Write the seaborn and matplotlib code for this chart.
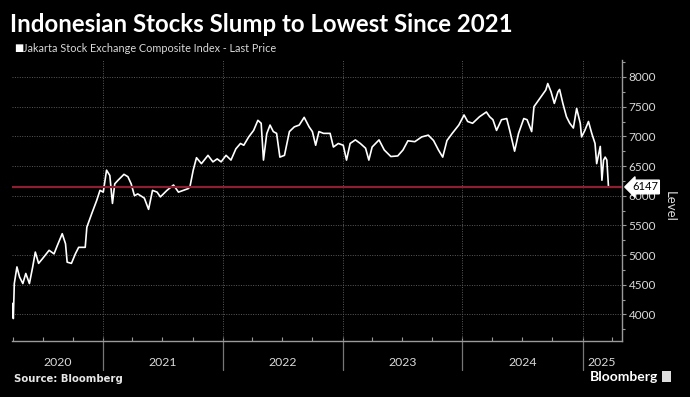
import matplotlib
matplotlib.use("Agg")
import matplotlib.pyplot as plt
import matplotlib.dates as mdates
import matplotlib.transforms as mtransforms
from matplotlib.ticker import MultipleLocator
import pandas as pd
import seaborn as sns

# --- data (JCI last price) ---
dates = [
    # 2020
    "2020-03-31", "2020-04-03", "2020-04-06", "2020-04-14", "2020-04-22", "2020-05-02",
    "2020-05-11", "2020-05-22", "2020-06-01", "2020-06-09", "2020-06-19", "2020-07-01",
    "2020-07-21", "2020-08-05", "2020-08-15", "2020-08-30", "2020-09-09", "2020-09-14",
    "2020-09-27", "2020-10-09", "2020-10-19", "2020-11-08", "2020-11-13", "2020-11-28",
    "2020-12-13", "2020-12-23",
    # 2021
    "2021-01-02", "2021-01-12", "2021-01-22", "2021-01-30", "2021-02-06", "2021-02-16",
    "2021-03-06", "2021-03-18", "2021-03-28", "2021-04-07", "2021-04-17", "2021-05-07",
    "2021-05-20", "2021-06-01", "2021-06-15", "2021-06-25", "2021-07-15", "2021-08-04",
    "2021-08-19", "2021-09-03", "2021-09-18", "2021-09-23", "2021-10-03", "2021-10-13",
    "2021-10-28", "2021-11-17", "2021-12-02", "2021-12-15", "2021-12-27",
    # 2022
    "2022-01-11", "2022-01-26", "2022-02-10", "2022-02-24", "2022-03-06", "2022-03-21",
    "2022-04-05", "2022-04-18", "2022-04-28", "2022-05-05", "2022-05-15", "2022-05-25",
    "2022-06-04", "2022-06-14", "2022-06-24", "2022-07-08", "2022-07-23", "2022-08-07",
    "2022-08-22", "2022-09-06", "2022-09-21", "2022-10-01", "2022-10-11", "2022-10-21",
    "2022-11-04", "2022-11-24", "2022-12-04", "2022-12-19",
    # 2023
    "2023-01-03", "2023-01-13", "2023-01-24", "2023-02-09", "2023-02-24", "2023-03-12",
    "2023-03-22", "2023-04-01", "2023-04-22", "2023-05-08", "2023-05-28", "2023-06-18",
    "2023-07-04", "2023-07-19", "2023-08-09", "2023-08-30", "2023-09-19", "2023-10-05",
    "2023-10-20", "2023-11-02", "2023-11-15", "2023-12-01", "2023-12-21",
    # 2024
    "2024-01-06", "2024-01-17", "2024-02-01", "2024-02-22", "2024-03-14", "2024-03-24",
    "2024-04-03", "2024-04-14", "2024-04-29", "2024-05-15", "2024-05-25", "2024-06-08",
    "2024-06-20", "2024-07-06", "2024-07-16", "2024-07-30", "2024-08-06", "2024-08-27",
    "2024-09-11", "2024-09-17", "2024-09-27", "2024-10-07", "2024-10-18", "2024-10-23",
    "2024-11-02", "2024-11-13", "2024-11-23", "2024-12-04", "2024-12-14", "2024-12-25",
    "2024-12-29",
    # 2025
    "2025-01-08", "2025-01-19", "2025-01-29", "2025-02-08", "2025-02-13", "2025-02-24",
    "2025-03-01", "2025-03-06", "2025-03-11", "2025-03-16", "2025-03-21",
]
levels = [
    # 2020
    4185, 3930, 4520, 4800, 4630, 4520,
    4690, 4520, 4800, 5050, 4860, 4940,
    5080, 5020, 5160, 5360, 5190, 4880,
    4860, 5020, 5130, 5130, 5470, 5700,
    5920, 6090,
    # 2021
    6060, 6430, 6340, 5870, 6200, 6260,
    6360, 6320, 6200, 6000, 6030, 5960,
    5770, 6090, 6060, 5980, 6090, 6180,
    6060, 6090, 6120, 6150, 6430, 6640,
    6540, 6680, 6570, 6620, 6570,
    # 2022
    6680, 6600, 6790, 6880, 6850, 6990,
    7100, 7270, 7220, 6600, 7045, 7190,
    7080, 7050, 6650, 6680, 7080, 7160,
    7190, 7320, 7160, 7080, 6850, 7080,
    7050, 7050, 6820, 6880,
    # 2023
    6850, 6600, 6880, 6940, 6880, 6800,
    6600, 6820, 6940, 6770, 6660, 6670,
    6770, 6925, 6910, 6990, 7020, 6930,
    6770, 6650, 6930, 7050, 7190,
    # 2024
    7360, 7250, 7220, 7330, 7410, 7330,
    7280, 7100, 7280, 7300, 7080, 6750,
    7050, 7300, 7280, 7080, 7500, 7665,
    7780, 7890, 7750, 7555, 7750, 7790,
    7555, 7330, 7220, 7140, 7470, 7220,
    6990,
    # 2025
    7100, 7250, 7050, 6880, 6540, 6830,
    6260, 6600, 6650, 6600, 6147,
]
last_price = 6147
year_starts = ["2021-01-01", "2022-01-01", "2023-01-01", "2024-01-01", "2025-01-01"]
year_labels = ["2020", "2021", "2022", "2023", "2024", "2025"]
x_range = ["2020-03-30", "2025-04-30"]
y_range = [3545, 8287]

title = "Indonesian Stocks Slump to Lowest Since 2021"
legend_label = "Jakarta Stock Exchange Composite Index - Last Price"

# --- style ---
sns.set_theme(style="dark")
plt.rcParams["font.family"] = ["Lato", "DejaVu Sans"]
txt_col = "#d9d9d9"
axis_col = "#9a9a9a"
grid_col = "#5a5a5a"

df = pd.DataFrame({"date": pd.to_datetime(dates), "level": levels})

fig = plt.figure(figsize=(6.9, 3.97), dpi=100, facecolor="black")
ax = fig.add_axes([0.0174, 0.140, 0.8835, 0.709])
ax.set_facecolor("black")

sns.lineplot(data=df, x="date", y="level", ax=ax, color="white", linewidth=1.2)

# last price marker line
ax.axhline(last_price, color="#8e1f33", linewidth=1.6, zorder=3)

ax.set_xlim(pd.to_datetime(x_range[0]), pd.to_datetime(x_range[1]))
ax.set_ylim(*y_range)

# y axis on right
ax.yaxis.tick_right()
ax.yaxis.set_label_position("right")
ax.yaxis.set_major_locator(MultipleLocator(500))
ax.yaxis.set_minor_locator(MultipleLocator(250))
ax.set_yticks([4000 + 500 * i for i in range(9)])
ax.tick_params(axis="y", which="both", right=True, left=False, direction="out",
               colors=axis_col, labelcolor=txt_col, labelsize=8.5, length=3, width=0.8, pad=2)
ax.tick_params(axis="y", which="minor", length=2)
ax.set_ylabel("Level", color=txt_col, fontsize=9.5, rotation=270, labelpad=12)
ax.yaxis.set_label_coords(1.088, 0.48)

# x axis: quarter ticks, no labels
ax.xaxis.set_major_locator(mdates.MonthLocator(bymonth=[1, 4, 7, 10]))
ax.xaxis.set_major_formatter(plt.NullFormatter())
ax.tick_params(axis="x", which="major", bottom=True, direction="in", length=3,
               width=0.8, colors=axis_col)
ax.set_xlabel("")

for s in ["left", "top"]:
    ax.spines[s].set_visible(False)
for s in ["right", "bottom"]:
    ax.spines[s].set_visible(True)
    ax.spines[s].set_color(axis_col)
    ax.spines[s].set_linewidth(1.0)

# grid: horizontal dotted at labelled levels, vertical dotted at year starts
ax.grid(False)
for v in ax.get_yticks():
    ax.axhline(v, color=grid_col, linestyle=(0, (1, 1.5)), linewidth=0.7, zorder=1)
trans = mtransforms.blended_transform_factory(ax.transData, ax.transAxes)
for ys in pd.to_datetime(year_starts):
    ax.axvline(ys, color=grid_col, linestyle=(0, (1, 1.5)), linewidth=0.7, zorder=1)
    ax.plot([ys, ys], [0, -0.10], transform=trans, color="#777777", linewidth=0.9,
            clip_on=False)

# year labels centred in each span
edges = [mdates.date2num(pd.to_datetime(x_range[0]))] + \
        [mdates.date2num(d) for d in pd.to_datetime(year_starts)] + \
        [mdates.date2num(pd.to_datetime(x_range[1]))]
for lab, a, b in zip(year_labels, edges[:-1], edges[1:]):
    ax.text((a + b) / 2, -0.075, lab, transform=trans, ha="center", va="center",
            color=txt_col, fontsize=8.8)

# last value tag
ax.annotate(f"{last_price}", xy=(1.0, last_price), xycoords=("axes fraction", "data"),
            xytext=(1.017, last_price), textcoords=("axes fraction", "data"),
            ha="left", va="center", fontsize=8, color="black",
            bbox=dict(boxstyle="larrow,pad=0.12", fc="white", ec="white"),
            annotation_clip=False)

# titles and footer
fig.text(0.014, 0.968, title, ha="left", va="top", color="white",
         fontsize=17.3, fontweight="bold")
fig.text(0.020, 0.878, "\u25A0", ha="left", va="center", color="white", fontsize=7,
         family=["DejaVu Sans"])
fig.text(0.033, 0.878, legend_label, ha="left", va="center", color=txt_col, fontsize=7.8)
fig.text(0.020, 0.046, "Source: Bloomberg", ha="left", va="center", color="#e6e6e6",
         fontsize=7.3, fontweight="bold", family=["DejaVu Sans"])
fig.text(0.855, 0.051, "Bloomberg", ha="left", va="center", color="white",
         fontsize=10, fontweight="bold")
fig.patches.append(plt.Rectangle((0.959, 0.038), 0.013, 0.028, transform=fig.transFigure,
                                 facecolor="#dddddd", edgecolor="none"))

fig.savefig("out.png", dpi=100, facecolor="black")
